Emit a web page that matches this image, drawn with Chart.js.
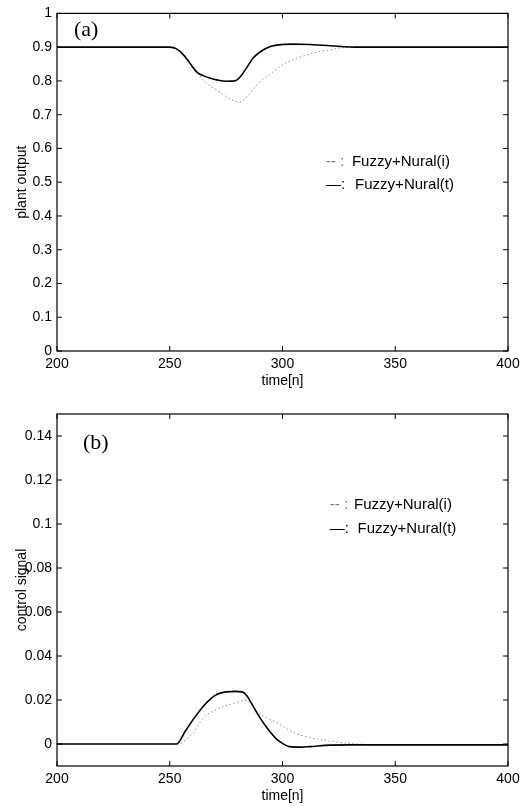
<!DOCTYPE html>
<html>
<head>
<meta charset="utf-8">
<script src="https://cdn.jsdelivr.net/npm/chart.js@4.4.1/dist/chart.umd.min.js"></script>
<style>
  html, body { margin: 0; padding: 0; background: #fff; }
  .panel { position: relative; width: 530px; }
  #panelA { height: 400px; }
  #panelB { height: 407px; }
</style>
</head>
<body>
<div class="panel" id="panelA"><canvas id="plantChart"></canvas></div>
<div class="panel" id="panelB"><canvas id="controlChart"></canvas></div>
<script>
// ── axis ticks ──
const timeTicks = [200, 250, 300, 350, 400];
const plantTicks = [0, 0.1, 0.2, 0.3, 0.4, 0.5, 0.6, 0.7, 0.8, 0.9, 1];
const controlTicks = [0, 0.02, 0.04, 0.06, 0.08, 0.1, 0.12, 0.14];

// ── (a) plant output ──
const plantTimeT = [200, 250, 253, 256, 259, 262, 265, 268, 271, 275, 279, 281, 284, 287, 291, 295, 300, 305, 312, 320, 326, 332, 340, 400];
const plantOutT  = [0.9, 0.9, 0.895, 0.878, 0.852, 0.826, 0.815, 0.808, 0.803, 0.799, 0.800, 0.810, 0.838, 0.868, 0.890, 0.903, 0.908, 0.909, 0.908, 0.905, 0.902, 0.900, 0.900, 0.900];
const plantTimeI = [200, 250, 253, 256, 259, 262, 266, 271, 277, 281, 283, 286, 290, 296, 300, 305, 311, 316, 321, 326, 332, 400];
const plantOutI  = [0.9, 0.9, 0.895, 0.878, 0.852, 0.826, 0.795, 0.772, 0.746, 0.737, 0.745, 0.767, 0.797, 0.828, 0.848, 0.864, 0.877, 0.886, 0.892, 0.898, 0.900, 0.900];

// ── (b) control signal ──
const ctrlTimeT = [200, 253, 257, 260.5, 265, 268, 271, 275, 279, 282, 284, 285.6, 288.6, 291, 293, 297.4, 300, 303, 308, 312, 321, 330, 400];
const ctrlSigT  = [0, 0, 0.006, 0.0113, 0.0173, 0.0204, 0.0226, 0.0237, 0.0239, 0.0237, 0.0222, 0.0196, 0.0143, 0.0104, 0.0075, 0.0022, 0.0003, -0.0012, -0.0014, -0.0012, -0.0005, -0.0004, -0.0004];
const ctrlTimeI = [200, 254, 257, 260.5, 265, 271, 277, 281, 284, 286, 288.6, 291.5, 297.4, 305, 312, 321, 328.5, 340, 400];
const ctrlSigI  = [0, 0, 0.0018, 0.0052, 0.012, 0.0158, 0.0181, 0.0192, 0.0199, 0.0185, 0.0143, 0.0128, 0.0097, 0.0052, 0.0029, 0.0014, 0.0004, -0.0003, -0.0004];

const SANS = '"Liberation Sans", Arial, Helvetica, sans-serif';
const SERIF = '"Liberation Serif", "Times New Roman", serif';
const TICK_LEN = 5;

const pts = (xs, ys) => xs.map((x, i) => ({ x, y: ys[i] }));
const fmt = v => String(+v.toFixed(2));

// ── Plugin: boxed frame, inward ticks, panel tag, text legend ──
const framePlugin = {
  id: 'matFrame',
  afterDatasetsDraw(chart, args, opts) {
    const { ctx, chartArea: a, scales: { x, y } } = chart;
    ctx.save();
    ctx.strokeStyle = '#000';
    ctx.lineWidth = 1.2;
    ctx.strokeRect(a.left, a.top, a.right - a.left, a.bottom - a.top);

    ctx.lineWidth = 1;
    ctx.beginPath();
    x.ticks.forEach(t => {
      const px = x.getPixelForValue(t.value);
      ctx.moveTo(px, a.bottom); ctx.lineTo(px, a.bottom - TICK_LEN);
      ctx.moveTo(px, a.top);    ctx.lineTo(px, a.top + TICK_LEN);
    });
    y.ticks.forEach(t => {
      const py = y.getPixelForValue(t.value);
      ctx.moveTo(a.left, py);  ctx.lineTo(a.left + TICK_LEN, py);
      ctx.moveTo(a.right, py); ctx.lineTo(a.right - TICK_LEN, py);
    });
    ctx.stroke();

    // panel tag, e.g. (a)
    ctx.fillStyle = '#000';
    ctx.textBaseline = 'middle';
    ctx.font = `22px ${SERIF}`;
    ctx.fillText(opts.tag, x.getPixelForValue(opts.tagAt[0]), y.getPixelForValue(opts.tagAt[1]));

    // legend rows: line sample typed as text, then the label
    ctx.font = `15px ${SANS}`;
    opts.rows.forEach(r => {
      const py = y.getPixelForValue(r.y);
      ctx.fillStyle = r.markColor;
      ctx.fillText(r.mark, x.getPixelForValue(r.markX), py);
      ctx.fillStyle = '#000';
      ctx.fillText(r.text, x.getPixelForValue(r.textX), py);
    });
    ctx.restore();
  },
};

function buildPanel(canvasId, cfg) {
  const ctx = document.getElementById(canvasId).getContext('2d');
  const tickFont = { family: SANS, size: 14 };
  return new Chart(ctx, {
    type: 'line',
    data: {
      datasets: [
        {
          label: 'Fuzzy+Nural(t)',
          data: pts(cfg.tT, cfg.vT),
          borderColor: '#000',
          borderWidth: 1.6,
          pointRadius: 0,
          cubicInterpolationMode: 'monotone',
        },
        {
          label: 'Fuzzy+Nural(i)',
          data: pts(cfg.tI, cfg.vI),
          borderColor: '#8c8c8c',
          borderWidth: 1,
          borderDash: [1.5, 2.5],
          pointRadius: 0,
          cubicInterpolationMode: 'monotone',
        },
      ],
    },
    plugins: [framePlugin],
    options: {
      responsive: true,
      maintainAspectRatio: false,
      animation: false,
      layout: { padding: { left: 0, right: 22, top: cfg.padTop, bottom: 0 } },
      plugins: {
        legend: { display: false },
        tooltip: { enabled: false },
        matFrame: { tag: cfg.tag, tagAt: cfg.tagAt, rows: cfg.rows },
      },
      scales: {
        x: {
          type: 'linear',
          min: 200,
          max: 400,
          afterBuildTicks: s => { s.ticks = timeTicks.map(v => ({ value: v })); },
          afterFit: s => { s.height = cfg.xHeight; },
          grid: { display: false, drawTicks: false },
          border: { display: false },
          ticks: { color: '#000', font: tickFont, padding: 5, maxRotation: 0, autoSkip: false, callback: v => fmt(v) },
          title: { display: true, text: 'time[n]', color: '#000', font: tickFont, padding: { top: 0, bottom: cfg.xTitlePad } },
        },
        y: {
          type: 'linear',
          min: cfg.yMin,
          max: cfg.yMax,
          afterBuildTicks: s => { s.ticks = cfg.yTicks.map(v => ({ value: v })); },
          afterFit: s => { s.width = 57; },
          grid: { display: false, drawTicks: false },
          border: { display: false },
          ticks: { color: '#000', font: tickFont, padding: 5, autoSkip: false, callback: v => fmt(v) },
          title: { display: true, text: cfg.yTitle, color: '#000', font: tickFont, padding: { top: 14, bottom: 0 } },
        },
      },
    },
  });
}

buildPanel('plantChart', {
  tT: plantTimeT, vT: plantOutT, tI: plantTimeI, vI: plantOutI,
  yMin: 0, yMax: 1, yTicks: plantTicks, yTitle: 'plant output',
  padTop: 10, xHeight: 49, xTitlePad: 10,
  tag: '(a)', tagAt: [207.5, 0.95],
  rows: [
    { mark: '-- :', markColor: '#777', markX: 319.3, text: 'Fuzzy+Nural(i)', textX: 330.8, y: 0.560 },
    { mark: '—:', markColor: '#000', markX: 319.3, text: 'Fuzzy+Nural(t)', textX: 332.2, y: 0.493 },
  ],
});

buildPanel('controlChart', {
  tT: ctrlTimeT, vT: ctrlSigT, tI: ctrlTimeI, vI: ctrlSigI,
  yMin: -0.01, yMax: 0.15, yTicks: controlTicks, yTitle: 'control signal',
  padTop: 14, xHeight: 41, xTitlePad: 2,
  tag: '(b)', tagAt: [211.5, 0.1368],
  rows: [
    { mark: '-- :', markColor: '#777', markX: 321, text: 'Fuzzy+Nural(i)', textX: 331.7, y: 0.1086 },
    { mark: '—:', markColor: '#000', markX: 321, text: 'Fuzzy+Nural(t)', textX: 333.3, y: 0.0977 },
  ],
});
</script>
</body>
</html>
